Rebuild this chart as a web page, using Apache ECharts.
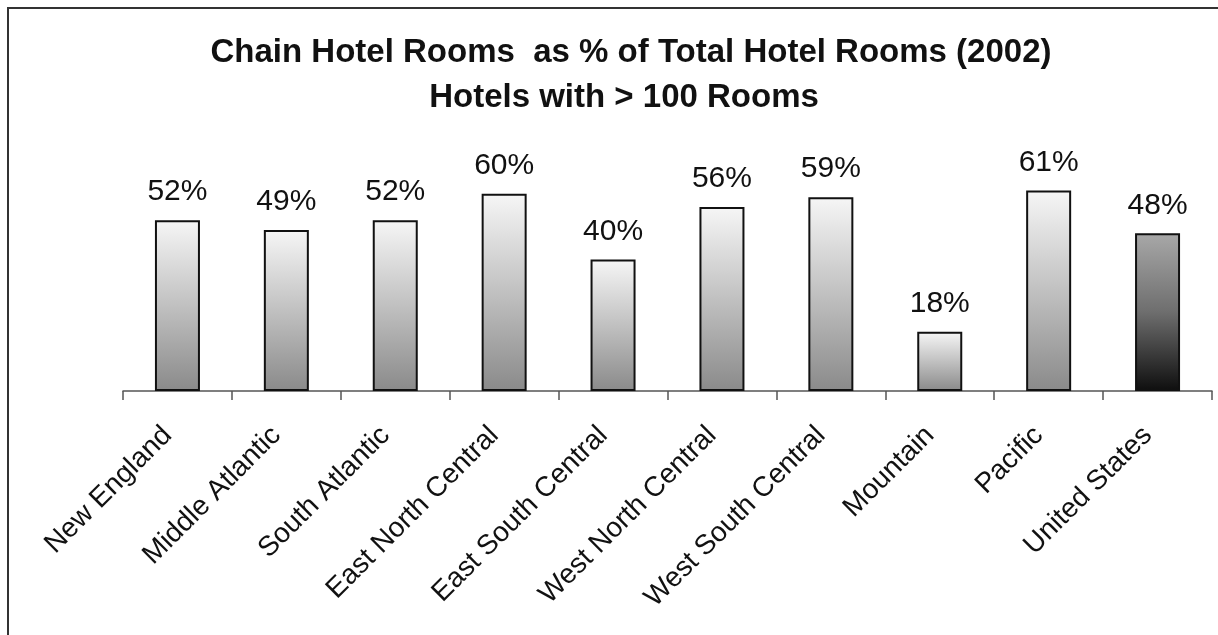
<!DOCTYPE html>
<html>
<head>
<meta charset="utf-8">
<script src="https://cdn.jsdelivr.net/npm/echarts@6/dist/echarts.min.js"></script>
<style>
  html, body { margin: 0; padding: 0; background: #fff; }
  #chart { width: 1218px; height: 635px; }
</style>
</head>
<body>
<div id="chart"></div>
<script>
// Census regions plus the national figure
const regions = [
  'New England', 'Middle Atlantic', 'South Atlantic', 'East North Central',
  'East South Central', 'West North Central', 'West South Central',
  'Mountain', 'Pacific', 'United States'
];
// Chain share of rooms, percent
const chainShare = [52, 49, 52, 60, 40, 56, 59, 18, 61, 48];
const titleLine1 = 'Chain Hotel Rooms  as % of Total Hotel Rooms (2002)';
const titleLine2 = 'Hotels with > 100 Rooms';

const FONT = '"Liberation Sans", Arial, Helvetica, sans-serif';

const regionFill = new echarts.graphic.LinearGradient(0, 0, 0, 1, [
  { offset: 0, color: '#f6f6f6' },
  { offset: 0.45, color: '#c6c6c6' },
  { offset: 1, color: '#8a8a8a' }
]);
const nationFill = new echarts.graphic.LinearGradient(0, 0, 0, 1, [
  { offset: 0, color: '#a8a8a8' },
  { offset: 0.5, color: '#6e6e6e' },
  { offset: 1, color: '#0e0e0e' }
]);

const barData = chainShare.map((v, i) => ({
  value: v,
  itemStyle: { color: regions[i] === 'United States' ? nationFill : regionFill }
}));

const chart = echarts.init(document.getElementById('chart'), null, { renderer: 'canvas' });
chart.setOption({
  backgroundColor: '#ffffff',
  animation: false,
  title: [
    {
      text: titleLine1,
      left: 626, top: 31, textAlign: 'center',
      textStyle: { fontFamily: FONT, fontSize: 33, fontWeight: 'bold', color: '#111' }
    },
    {
      text: titleLine2,
      left: 619, top: 76, textAlign: 'center',
      textStyle: { fontFamily: FONT, fontSize: 33, fontWeight: 'bold', color: '#111' }
    }
  ],
  graphic: [{
    type: 'rect',
    shape: { x: 8, y: 8, width: 1400, height: 800 },
    style: { fill: 'none', stroke: '#333', lineWidth: 2 },
    silent: true
  }],
  grid: { left: 123, right: 6, top: 161, bottom: 635 - 391, containLabel: false },
  xAxis: {
    type: 'category',
    data: regions,
    axisLine: { show: true, lineStyle: { color: '#555', width: 1.5 } },
    axisTick: { show: true, length: 9, lineStyle: { color: '#555', width: 1.5 } },
    axisLabel: {
      rotate: 45, margin: 50, interval: 0, verticalAlign: 'bottom',
      fontFamily: FONT, fontSize: 28, color: '#111'
    },
    splitLine: { show: false }
  },
  yAxis: {
    type: 'value', min: 0, max: 70, interval: 10,
    show: false
  },
  series: [{
    type: 'bar',
    data: barData,
    barWidth: 45,
    itemStyle: { borderColor: '#111', borderWidth: 2 },
    label: {
      show: true, position: 'top', distance: 13,
      formatter: p => p.value + '%',
      fontFamily: FONT, fontSize: 30, color: '#111'
    }
  }]
});
</script>
</body>
</html>
